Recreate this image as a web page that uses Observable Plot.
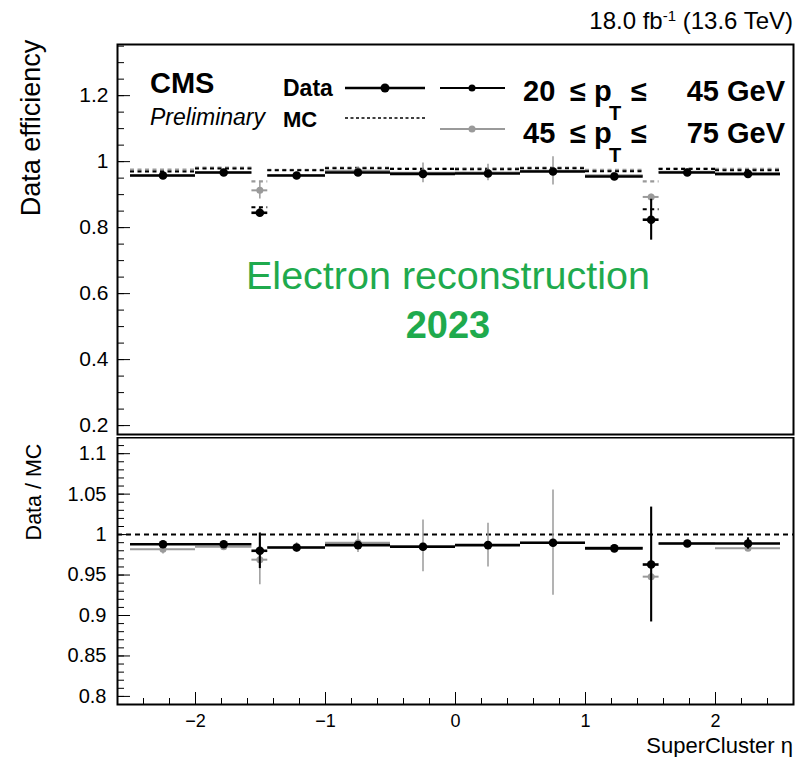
<!DOCTYPE html>
<html>
<head>
<meta charset="utf-8">
<script src="https://cdn.jsdelivr.net/npm/d3@7"></script>
<script src="https://cdn.jsdelivr.net/npm/@observablehq/plot@0.6"></script>
<style>
  body { margin: 0; background: #fff; }
  #chart { position: relative; width: 796px; height: 757px; font-family: "Liberation Sans", Arial, Helvetica, sans-serif; }
  #chart > svg { position: absolute; left: 0; }
</style>
</head>
<body>
<div id="chart"></div>
<script>
// SuperCluster eta bin edges (barrel / gap / endcap)
const etaEdges = [-2.5, -2.0, -1.566, -1.444, -1.0, -0.5, 0, 0.5, 1.0, 1.444, 1.566, 2.0, 2.5];

// 20 <= pT <= 45 GeV
const effData20 = [0.958, 0.967, 0.845, 0.958, 0.967, 0.963, 0.964, 0.970, 0.955, 0.824, 0.967, 0.963];
const errData20 = [0.002, 0.002, 0.012, 0.002, 0.002, 0.002, 0.002, 0.002, 0.002, 0.062, 0.002, 0.003];
const effMC20   = [0.970, 0.979, 0.862, 0.974, 0.980, 0.978, 0.977, 0.980, 0.971, 0.856, 0.978, 0.974];
const ratio20    = [0.988, 0.988, 0.980, 0.984, 0.987, 0.985, 0.987, 0.990, 0.983, 0.963, 0.989, 0.989];
const ratioErr20 = [0.002, 0.002, 0.022, 0.002, 0.002, 0.002, 0.002, 0.002, 0.002, 0.071, 0.002, 0.007];

// 45 <= pT <= 75 GeV
const effData45 = [0.958, 0.967, 0.913, 0.959, 0.972, 0.966, 0.967, 0.972, 0.959, 0.893, 0.969, 0.961];
const errData45 = [0.004, 0.003, 0.026, 0.004, 0.008, 0.030, 0.025, 0.043, 0.002, 0.008, 0.002, 0.003];
const effMC45   = [0.976, 0.982, 0.940, 0.975, 0.982, 0.980, 0.980, 0.982, 0.975, 0.940, 0.980, 0.978];
const ratio45    = [0.982, 0.985, 0.969, 0.984, 0.990, 0.986, 0.987, 0.990, 0.984, 0.948, 0.989, 0.983];
const ratioErr45 = [0.006, 0.004, 0.031, 0.006, 0.012, 0.032, 0.027, 0.065, 0.002, 0.004, 0.002, 0.003];

// Axis tick labels
const effTicks = [0.2, 0.4, 0.6, 0.8, 1, 1.2];
const ratioTicks = [0.8, 0.85, 0.9, 0.95, 1, 1.05, 1.1];
const etaTicks = [-2, -1, 0, 1, 2];

const FONT = '"Liberation Sans", Arial, Helvetica, sans-serif';
const GREY = "#9a9a9a";
const GREEN = "#1faa4d";
const W = 796;
const FRAME_W = 796 - 117 - 3;

function bins(eff, err, mc, ratio, rerr) {
  return eff.map((v, i) => ({
    lo: etaEdges[i], hi: etaEdges[i + 1], c: (etaEdges[i] + etaEdges[i + 1]) / 2,
    eff: v, err: err[i], mc: mc[i], ratio: ratio[i], rerr: rerr[i]
  }));
}
const low = bins(effData20, errData20, effMC20, ratio20, ratioErr20);
const high = bins(effData45, errData45, effMC45, ratio45, ratioErr45);

const r2 = (v) => Math.round(v * 100) / 100;
const effMinor = d3.range(4, 28).map((i) => r2(i * 0.05));
const ratioMinor = d3.range(79, 113).map((i) => i / 100);
const etaMinor = d3.range(-12, 13).map((i) => i / 5);
const fmtEta = (d) => (d < 0 ? "\u2212" + Math.abs(d) : String(d));

function dataMarks(rows, color, key, errKey, lw, r) {
  return [
    Plot.ruleY(rows, {x1: "lo", x2: "hi", y: key, stroke: color, strokeWidth: lw}),
    Plot.ruleX(rows, {x: "c", y1: (d) => d[key] - d[errKey], y2: (d) => d[key] + d[errKey], stroke: color, strokeWidth: lw - 0.5}),
    Plot.dot(rows, {x: "c", y: key, r, fill: color, stroke: null})
  ];
}

// Upper panel: efficiencies
const upper = Plot.plot({
  width: W, height: 437,
  marginTop: 44, marginBottom: 3, marginLeft: 117, marginRight: 3,
  style: {fontFamily: FONT, fontSize: "21px", background: "transparent", color: "#000"},
  x: {domain: [-2.6, 2.6], axis: null},
  y: {domain: [0.173, 1.355]},
  marks: [
    Plot.axisY({ticks: effTicks, tickSize: 0, tickPadding: 9, tickFormat: (d) => String(d), label: null, fontSize: 21}),
    Plot.tickY(effMinor, {y: (d) => d, insetRight: FRAME_W - 7, stroke: "#000"}),
    Plot.tickY(effTicks, {y: (d) => d, insetRight: FRAME_W - 13, stroke: "#000"}),
    Plot.ruleY(high, {x1: "lo", x2: "hi", y: "mc", stroke: GREY, strokeWidth: 2.2, strokeDasharray: "4,3.5"}),
    Plot.ruleY(low, {x1: "lo", x2: "hi", y: "mc", stroke: "#000", strokeWidth: 2, strokeDasharray: "4,3.5"}),
    ...dataMarks(high, GREY, "eff", "err", 2, 3.5),
    ...dataMarks(low, "#000", "eff", "err", 2.6, 4.3),
    Plot.frame({stroke: "#000", strokeWidth: 2})
  ]
});
upper.style.top = "0px";

// Lower panel: data / MC ratio
const lower = Plot.plot({
  width: W, height: 320,
  marginTop: 0, marginBottom: 53, marginLeft: 117, marginRight: 3,
  style: {fontFamily: FONT, fontSize: "20px", background: "transparent", color: "#000"},
  x: {domain: [-2.6, 2.6]},
  y: {domain: [0.79, 1.12]},
  marks: [
    Plot.axisY({ticks: ratioTicks, tickSize: 0, tickPadding: 11, tickFormat: (d) => String(d), label: null, fontSize: 20}),
    Plot.axisX({ticks: etaTicks, tickSize: 0, tickPadding: 10, tickFormat: fmtEta, label: null, fontSize: 18}),
    Plot.tickY(ratioMinor, {y: (d) => d, insetRight: FRAME_W - 7, stroke: "#000"}),
    Plot.tickY(ratioTicks, {y: (d) => d, insetRight: FRAME_W - 13, stroke: "#000"}),
    Plot.tickX(etaMinor, {x: (d) => d, insetTop: 267 - 6, stroke: "#000"}),
    Plot.tickX(etaTicks, {x: (d) => d, insetTop: 267 - 12, stroke: "#000"}),
    Plot.ruleY([1], {stroke: "#000", strokeWidth: 2, strokeDasharray: "5,4"}),
    ...dataMarks(high, GREY, "ratio", "rerr", 2, 3.5),
    ...dataMarks(low, "#000", "ratio", "rerr", 2.6, 4.3),
    Plot.frame({stroke: "#000", strokeWidth: 2})
  ]
});
lower.style.top = "437px";

const chart = document.getElementById("chart");
chart.appendChild(upper);
chart.appendChild(lower);

// Titles, labels and legend
const NS = "http://www.w3.org/2000/svg";
const overlay = document.createElementNS(NS, "svg");
overlay.setAttribute("width", W);
overlay.setAttribute("height", 757);
overlay.style.top = "0px";
overlay.style.fontFamily = FONT;
overlay.innerHTML = `
  <text x="793" y="29" text-anchor="end" font-size="24">18.0 fb<tspan dy="-8" font-size="15">-1</tspan><tspan dy="8"> (13.6 TeV)</tspan></text>
  <text transform="translate(40,128) rotate(-90)" text-anchor="middle" font-size="27">Data efficiency</text>
  <text transform="translate(41,492) rotate(-90)" text-anchor="middle" font-size="21.5">Data / MC</text>
  <text x="793" y="753" text-anchor="end" font-size="22">SuperCluster η</text>

  <text x="150" y="93" font-size="29" font-weight="bold">CMS</text>
  <text x="150" y="125" font-size="23" font-style="italic">Preliminary</text>

  <text x="283" y="96" font-size="23" font-weight="bold">Data</text>
  <line x1="345" x2="425" y1="88" y2="88" stroke="#000" stroke-width="2.5"/>
  <circle cx="385" cy="88" r="4.5" fill="#000"/>
  <text x="283" y="127" font-size="22" font-weight="bold">MC</text>
  <line x1="345" x2="425" y1="118" y2="118" stroke="#000" stroke-width="1.5" stroke-dasharray="3,2.5"/>

  <line x1="440" x2="505" y1="88" y2="88" stroke="#000" stroke-width="2"/>
  <circle cx="472" cy="88" r="3.5" fill="#000"/>
  <line x1="440" x2="505" y1="129" y2="129" stroke="${GREY}" stroke-width="2"/>
  <circle cx="472" cy="129" r="3.5" fill="${GREY}"/>

  <g font-size="29" font-weight="bold">
    <text x="523" y="101">20</text>
    <text x="570" y="101">≤ p</text>
    <text x="609" y="120" font-size="20">T</text>
    <text x="631" y="101">≤</text>
    <text x="785" y="101" text-anchor="end">45 GeV</text>
    <text x="523" y="143">45</text>
    <text x="570" y="143">≤ p</text>
    <text x="609" y="162" font-size="20">T</text>
    <text x="631" y="143">≤</text>
    <text x="785" y="143" text-anchor="end">75 GeV</text>
  </g>

  <text x="448" y="289" text-anchor="middle" font-size="39.5" fill="${GREEN}">Electron reconstruction</text>
  <text x="448" y="338" text-anchor="middle" font-size="38" font-weight="bold" fill="${GREEN}">2023</text>
`;
chart.appendChild(overlay);
</script>
</body>
</html>
